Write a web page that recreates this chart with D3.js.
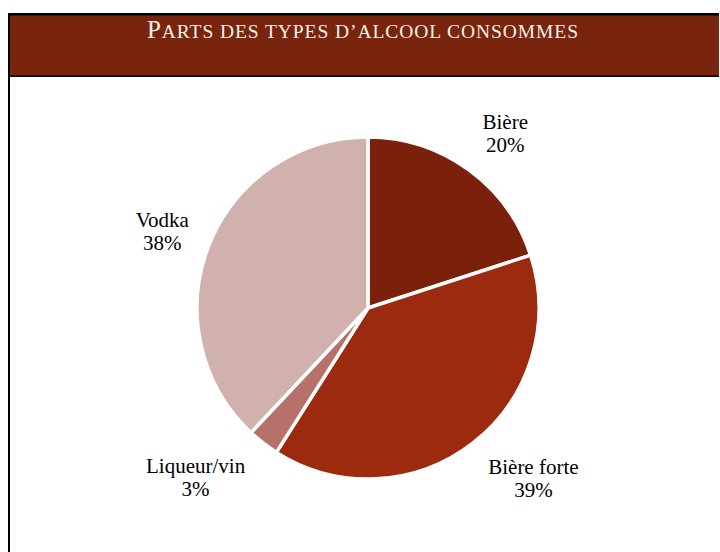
<!DOCTYPE html>
<html><head><meta charset="utf-8">
<script src="https://cdn.jsdelivr.net/npm/d3@7"></script>
<style>
html,body{margin:0;padding:0;background:#fff;}
svg{display:block;}
svg text{font-family:"Liberation Serif","Times New Roman",Times,serif;}
</style>
</head><body>
<script>
const categories = ["Bière", "Bière forte", "Liqueur/vin", "Vodka"];
const values = [20, 39, 3, 38];
const labels = ["20%", "39%", "3%", "38%"];
const colors = ["#7b200a", "#9b2a0e", "#b6716b", "#d1b1ad"];
const titleFirst = "P";
const titleRest = "ARTS DES TYPES D\u2019ALCOOL CONSOMMES";

const W = 720, H = 552;
const svg = d3.select("body").append("svg").attr("width", W).attr("height", H);

// Title banner
svg.append("rect").attr("x", 8).attr("y", 13).attr("width", 711).attr("height", 64).attr("fill", "#000");
svg.append("rect").attr("x", 10).attr("y", 15.5).attr("width", 709).attr("height", 60).attr("fill", "#79240d");
svg.append("rect").attr("x", 8).attr("y", 13).attr("width", 2).attr("height", H - 13).attr("fill", "#000");

const title = svg.append("text")
  .attr("x", 147).attr("y", 38)
  .style("fill", "#f7f1ea")
  .attr("textLength", 431).attr("lengthAdjust", "spacing");
title.append("tspan").style("font-size", "25px").text(titleFirst);
title.append("tspan").style("font-size", "19.5px").text(titleRest);

// Pie
const cx = 368, cy = 308, R = 171;
const pie = d3.pie().sort(null).value(d => d)(values);
const arc = d3.arc().innerRadius(0).outerRadius(R);
const g = svg.append("g").attr("transform", `translate(${cx},${cy})`);
g.selectAll("path").data(pie).join("path")
  .attr("d", arc)
  .attr("fill", (d, i) => colors[i])
  .attr("stroke", "#fff").attr("stroke-width", 3.5).attr("stroke-linejoin", "miter");

// Labels: outer arc centroid plus best-fit nudges
const labelArc = d3.arc().innerRadius(225).outerRadius(225);
const nudges = [[5, 9], [27.5, -6], [-34.5, -7], [3.5, 7]];
const lg = g.selectAll("g.lab").data(pie).join("g").attr("class", "lab")
  .attr("transform", (d, i) => {
    const c = labelArc.centroid(d);
    return `translate(${c[0] + nudges[i][0]},${c[1] + nudges[i][1]})`;
  });
const lt = lg.append("text")
  .attr("text-anchor", "middle")
  .style("font-size", "21px").style("fill", "#000");
lt.append("tspan").attr("x", 0).attr("y", -5.5).text((d, i) => categories[i]);
lt.append("tspan").attr("x", 0).attr("y", 17.5).text((d, i) => labels[i]);
</script>
</body></html>
